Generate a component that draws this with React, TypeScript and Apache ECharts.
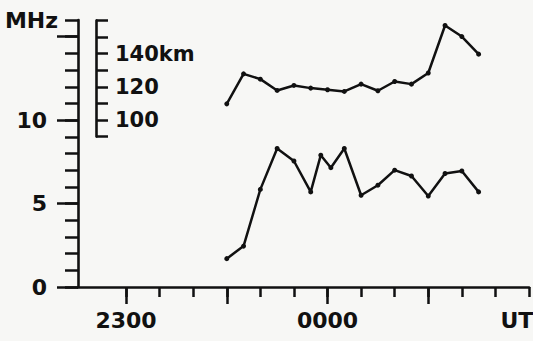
import React, { useEffect, useRef } from "react";
import * as echarts from "echarts";

// Time in minutes after 2300 UT
const timeMin = -14.3;
const timeMax = 120;
const minorTimeTicks = [0, 10, 20, 30, 40, 50, 60, 70, 80, 90, 100, 110, 120];
const majorTimeTicks = [0, 30, 60, 90];
const timeLabelValues = [0, 60, 116.4];
const timeLabelTexts = ["2300", "0000", "UT"];

// Frequency (MHz) axis
const minorFreqTicks = [0, 1, 2, 3, 4, 5, 6, 7, 8, 9, 10, 11, 12, 13, 14, 15, 16];
const majorFreqTicks = [0, 5, 10, 15];
const freqLabelValues = [0, 5, 10];

// Height (km) axis
const kmMin = 90;
const kmMax = 160;
const kmLabelValues = [100, 120, 140];

// Series
const freqTimes = [30, 35, 40, 45, 50, 55, 58, 61, 65, 70, 75, 80, 85, 90, 95, 100, 105];
const freqMHz = [1.7, 2.45, 5.85, 8.3, 7.55, 5.7, 7.9, 7.15, 8.3, 5.5, 6.1, 7.0, 6.65, 5.45, 6.8, 6.95, 5.7];
const heightTimes = [30, 35, 40, 45, 50, 55, 60, 65, 70, 75, 80, 85, 90, 95, 100, 105];
const heightKm = [109.7, 127.8, 124.6, 117.8, 120.8, 119.2, 118.2, 117.2, 121.6, 117.6, 123.2, 121.6, 128.3, 157, 150.3, 139.7];

const INK = "#111";
const FONT = "DejaVu Sans";

export default function App() {
  const ref = useRef<HTMLDivElement>(null);
  useEffect(() => {
    if (!ref.current) return;
    const chart = echarts.init(ref.current, null, { renderer: "svg" });
    const labelStyle = { color: INK, fontFamily: FONT, fontWeight: "bold" as const, fontSize: 22 };
    chart.setOption({
      animation: false,
      backgroundColor: "#f7f7f5",
      grid: [
        { left: 78, right: 4, top: 20, bottom: 54, containLabel: false, outerBoundsMode: "none" },
        { left: 78, right: 4, top: 20.5, height: 116, containLabel: false, outerBoundsMode: "none" },
      ],
      xAxis: [
        {
          type: "value", gridIndex: 0, position: "bottom", min: timeMin, max: timeMax,
          axisLine: { show: true, onZero: false, lineStyle: { color: INK, width: 2.6 } },
          axisTick: { show: true, length: 10, customValues: minorTimeTicks, lineStyle: { color: INK, width: 2.5 } },
          axisLabel: { show: false },
          splitLine: { show: false },
        },
        {
          type: "value", gridIndex: 0, position: "bottom", min: timeMin, max: timeMax,
          axisLine: { show: false, onZero: false },
          axisTick: { show: true, length: 17, customValues: majorTimeTicks, lineStyle: { color: INK, width: 2.5 } },
          axisLabel: {
            show: true, customValues: timeLabelValues, margin: 22, ...labelStyle,
            formatter: (v: number) => timeLabelTexts[timeLabelValues.indexOf(v)] ?? "",
          },
          splitLine: { show: false },
        },
        {
          type: "value", gridIndex: 1, position: "bottom", min: timeMin, max: timeMax, show: false,
        },
      ],
      yAxis: [
        {
          type: "value", gridIndex: 0, position: "left", min: 0, max: 16,
          axisLine: { show: true, onZero: false, lineStyle: { color: INK, width: 2.6 } },
          axisTick: { show: true, length: 13, customValues: minorFreqTicks, lineStyle: { color: INK, width: 2.5 } },
          axisLabel: { show: false },
          splitLine: { show: false },
        },
        {
          type: "value", gridIndex: 0, position: "left", min: 0, max: 16,
          axisLine: { show: false, onZero: false },
          axisTick: { show: true, length: 21, customValues: majorFreqTicks, lineStyle: { color: INK, width: 2.5 } },
          axisLabel: { show: true, customValues: freqLabelValues, margin: 31, ...labelStyle },
          splitLine: { show: false },
        },
        {
          type: "value", gridIndex: 0, position: "left", min: 0, max: 16,
          axisLine: { show: false, onZero: false },
          axisTick: { show: false },
          axisLabel: { show: true, customValues: [16], margin: 20, ...labelStyle, formatter: () => "MHz" },
          splitLine: { show: false },
        },
        {
          type: "value", gridIndex: 1, position: "left", min: kmMin, max: kmMax, interval: 10, offset: -18,
          axisLine: { show: true, onZero: false, lineStyle: { color: INK, width: 2.6 } },
          axisTick: { show: true, inside: true, length: 12, lineStyle: { color: INK, width: 2.5 } },
          axisLabel: {
            show: true, inside: true, margin: 19, ...labelStyle, fontSize: 21, padding: [5, 0, 0, 0],
            formatter: (v: number) => (kmLabelValues.includes(v) ? (v === 140 ? v + "km" : String(v)) : ""),
          },
          splitLine: { show: false },
        },
      ],
      series: [
        {
          type: "line", xAxisIndex: 0, yAxisIndex: 0,
          data: freqTimes.map((t, i) => [t, freqMHz[i]]),
          symbol: "circle", symbolSize: 5,
          lineStyle: { color: INK, width: 2.5 }, itemStyle: { color: INK },
        },
        {
          type: "line", xAxisIndex: 2, yAxisIndex: 3,
          data: heightTimes.map((t, i) => [t, heightKm[i]]),
          symbol: "circle", symbolSize: 5,
          lineStyle: { color: INK, width: 2.5 }, itemStyle: { color: INK },
        },
      ],
    });
    return () => chart.dispose();
  }, []);
  return <div ref={ref} style={{ position: "fixed", left: 0, top: 0, width: 533, height: 341 }} />;
}
